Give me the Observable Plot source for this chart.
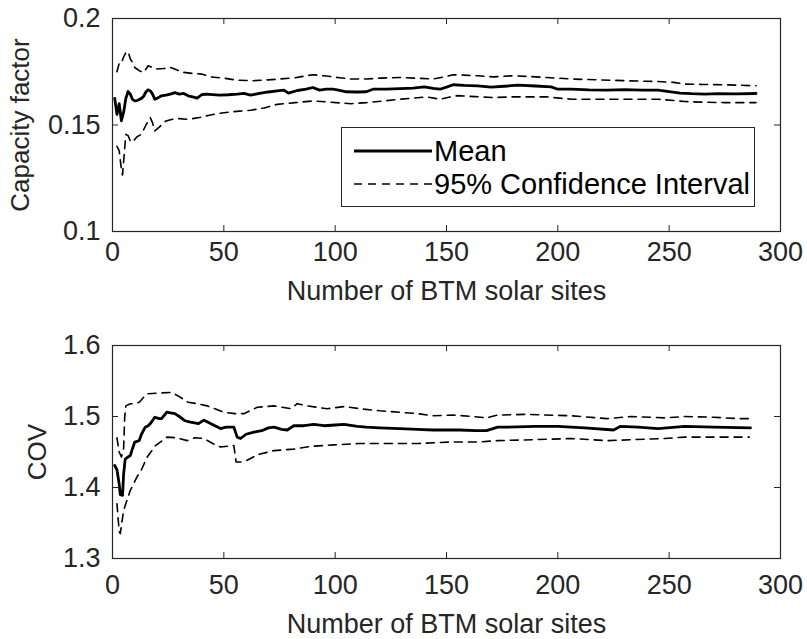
<!DOCTYPE html>
<html><head><meta charset="utf-8">
<script src="https://cdn.jsdelivr.net/npm/d3@7"></script>
<script src="https://cdn.jsdelivr.net/npm/@observablehq/plot@0.6"></script>
<style>
body{margin:0;background:#fff;}
#wrap{position:relative;width:807px;height:639px;overflow:hidden;font-family:"Liberation Sans",Arial,sans-serif;}
.panel{position:absolute;left:0;}
#legend{position:absolute;left:341px;top:127px;width:414px;height:80px;border:1.3px solid #262626;background:#fff;box-sizing:border-box;}
#legend .row{position:absolute;left:0;height:30px;display:flex;align-items:center;}
#legend .lbl{font-size:29px;color:#000;margin-left:2px;white-space:nowrap;}
</style></head><body><div id="wrap"></div>
<script>
// ---------- shared axis ----------
const xTicks = [0, 50, 100, 150, 200, 250, 300];
const xLabel = "Number of BTM solar sites";

// ---------- top panel: capacity factor ----------
const cfTicks = [0.1, 0.15, 0.2];
const cfLabel = "Capacity factor";
const cfMeanN = [1,2,3,4,5,6,7,8,9,10,11,12,13,14,15,16,17,18,19,20,22,24,26,28,30,32,34,36,38,40,42,45,48,52,56,59,62,66,70,74,77,79,83,87,90,93,96,99,102,105,110,114,117,123,129,135,140,144,147,150,153,158,164,170,176,182,190,197,200,206,214,222,230,238,245,250,255,260,266,272,280,289];
const cfMean = [0.1625,0.155,0.160,0.152,0.156,0.1625,0.1657,0.1645,0.162,0.1613,0.1615,0.162,0.1625,0.1635,0.1655,0.1665,0.166,0.1645,0.1621,0.1625,0.1637,0.164,0.1645,0.1652,0.1645,0.1648,0.1637,0.1632,0.1626,0.1642,0.1645,0.1643,0.164,0.1642,0.1645,0.1648,0.164,0.1648,0.1655,0.166,0.1664,0.165,0.1662,0.1668,0.1676,0.1664,0.1668,0.1668,0.1662,0.1656,0.1655,0.1656,0.1668,0.1668,0.1671,0.1673,0.1679,0.1672,0.1668,0.1678,0.1689,0.1686,0.1684,0.1678,0.1682,0.1687,0.1683,0.1679,0.1668,0.1668,0.1665,0.1664,0.1666,0.1664,0.1664,0.1657,0.165,0.1647,0.1645,0.1647,0.1646,0.1648];
const cfUpperN = [2,3,4,5,6,7,8,9,10,12,14,16,18,20,23,26,29,32,36,40,44,50,56,63,70,75,82,90,96,102,107,114,120,129,136,144,150,153,158,164,171,179,187,195,206,218,230,245,252,257,266,275,289];
const cfUpper = [0.175,0.179,0.179,0.182,0.184,0.1845,0.181,0.1794,0.177,0.1755,0.1747,0.1778,0.177,0.1763,0.1765,0.177,0.1758,0.1747,0.1742,0.1739,0.1726,0.172,0.171,0.1708,0.1712,0.1716,0.1722,0.1736,0.173,0.1722,0.1716,0.1716,0.172,0.1723,0.172,0.1716,0.1728,0.1736,0.1734,0.1731,0.1726,0.1731,0.1728,0.1723,0.1716,0.1712,0.1708,0.1704,0.17,0.1692,0.169,0.1689,0.1684];
const cfLowerN = [2,3,4,4.5,5,6,7,8,9,11,13,15,17,18,19,21,24,27,30,33,36,39,43,47,52,57,62,68,74,82,90,98,107,114,121,129,135,141,147,151,155,163,171,180,195,206,220,245,252,257,266,275,289];
const cfLower = [0.14,0.138,0.129,0.1265,0.133,0.1456,0.145,0.1425,0.142,0.1445,0.1456,0.15,0.1534,0.151,0.1472,0.149,0.1519,0.1527,0.153,0.1527,0.153,0.1535,0.1545,0.1553,0.156,0.1565,0.1569,0.158,0.1597,0.1605,0.1613,0.1607,0.16,0.1605,0.1612,0.1621,0.1626,0.1632,0.1621,0.163,0.1638,0.1633,0.1629,0.1632,0.1632,0.1621,0.1621,0.1621,0.1615,0.161,0.1607,0.1605,0.1605];

// ---------- bottom panel: COV ----------
const covTicks = [1.3, 1.4, 1.5, 1.6];
const covLabel = "COV";
const covMeanN = [1,2,3,3.5,4.5,5,5.7,7,8,9,10,12,13,14.7,16,17,19,21,22,24.4,26,28,30,32.6,35,38.6,41,44,48.5,51,54.5,56,57.5,60,63.5,67,70,72.5,76,78.5,81.4,86,90.4,95,100,104,110,114,120,129,137,144,156,163,168,173,177,190,200,212,225,228,236,245,257,270,286.5];
const covMean = [1.431,1.425,1.405,1.39,1.389,1.419,1.44,1.443,1.445,1.455,1.464,1.466,1.475,1.485,1.487,1.49,1.499,1.497,1.497,1.506,1.505,1.504,1.5,1.494,1.492,1.49,1.495,1.49,1.483,1.485,1.485,1.471,1.469,1.475,1.478,1.48,1.484,1.485,1.482,1.481,1.487,1.487,1.489,1.487,1.488,1.489,1.486,1.485,1.484,1.483,1.482,1.481,1.481,1.48,1.48,1.485,1.485,1.486,1.486,1.484,1.481,1.486,1.485,1.483,1.486,1.485,1.484];
const covUpperN = [2,3,4,5,5.5,6,8,10,12,15.4,20.7,26.6,30,34,38,42.5,50,55,59,65,72.5,80,83,87.4,96.4,104,111,120,129,137,144,153,162,168,173,185,206,222,233,248,257,270,281,286];
const covUpper = [1.47,1.45,1.443,1.455,1.5,1.515,1.518,1.518,1.52,1.532,1.533,1.534,1.528,1.52,1.518,1.515,1.506,1.504,1.504,1.513,1.515,1.511,1.518,1.515,1.511,1.514,1.511,1.508,1.506,1.504,1.501,1.502,1.5,1.498,1.502,1.503,1.501,1.497,1.5,1.498,1.5,1.499,1.497,1.497];
const covLowerN = [2,3,3.5,5,8,11,13,15.6,19.3,24.5,29,33.5,37,41,45,48.5,54.5,55.5,59,65,72.5,81.4,89,99.4,111,122,137,152,164,173,185,206,222,248,257,270,286];
const covLower = [1.377,1.338,1.335,1.368,1.396,1.415,1.425,1.443,1.459,1.471,1.47,1.466,1.47,1.469,1.462,1.457,1.459,1.436,1.436,1.446,1.452,1.454,1.458,1.46,1.462,1.462,1.462,1.464,1.464,1.466,1.467,1.469,1.466,1.469,1.471,1.471,1.471];

const legendLabels = ["Mean", "95% Confidence Interval"];

// ---------- styling ----------
const FONT = '"Liberation Sans", Arial, sans-serif';
const AXIS = "#262626";
const TICK = 6;

function panel({top, height, marginTop, marginBottom, yDomain, yTicks, yLabel, yLabelOffset, xTickPad, xLabelOffset, mean, upper, lower}) {
  const fh = height - marginTop - marginBottom;
  const fw = 807 - 112 - 27;
  const pts = (N, V) => V.map((v, i) => ({n: N[i], v}));
  const svg = Plot.plot({
    width: 807, height, marginTop, marginBottom, marginLeft: 112, marginRight: 27,
    style: {fontFamily: FONT, fontSize: "27px", color: AXIS, background: "white", overflow: "visible"},
    x: {domain: [0, 300]},
    y: {domain: yDomain},
    marks: [
      Plot.frame({stroke: AXIS, strokeWidth: 1.2}),
      Plot.tickX(xTicks, {x: d => d, insetTop: fh - TICK, stroke: AXIS}),
      Plot.tickX(xTicks, {x: d => d, insetBottom: fh - TICK, stroke: AXIS}),
      Plot.tickY(yTicks, {y: d => d, insetRight: fw - TICK, stroke: AXIS}),
      Plot.tickY(yTicks, {y: d => d, insetLeft: fw - TICK, stroke: AXIS}),
      Plot.axisX({ticks: xTicks, tickFormat: d => String(d), tickSize: 0, tickPadding: xTickPad, label: xLabel, labelAnchor: "center", labelArrow: "none", labelOffset: xLabelOffset, fill: AXIS}),
      Plot.axisY({ticks: yTicks, tickFormat: d => String(d), tickSize: 0, tickPadding: 12, label: yLabel, labelAnchor: "center", labelArrow: "none", labelOffset: yLabelOffset, fill: AXIS}),
      Plot.line(pts(upper[0], upper[1]), {x: "n", y: "v", stroke: "black", strokeWidth: 1.6, strokeDasharray: "8,6"}),
      Plot.line(pts(lower[0], lower[1]), {x: "n", y: "v", stroke: "black", strokeWidth: 1.6, strokeDasharray: "8,6"}),
      Plot.line(pts(mean[0], mean[1]), {x: "n", y: "v", stroke: "black", strokeWidth: 2.8})
    ]
  });
  svg.classList.add("panel");
  svg.style.top = top + "px";
  svg.style.position = "absolute";
  svg.querySelectorAll('g[aria-label="y-axis label"] text').forEach(t => t.setAttribute("font-size", "26px"));
  return svg;
}

const wrap = document.getElementById("wrap");
wrap.appendChild(panel({top: 0, height: 320, marginTop: 18, marginBottom: 89, yDomain: [0.1, 0.2], yTicks: cfTicks, yLabel: cfLabel, yLabelOffset: 102, xTickPad: 10, xLabelOffset: 68,
  mean: [cfMeanN, cfMean], upper: [cfUpperN, cfUpper], lower: [cfLowerN, cfLower]}));
wrap.appendChild(panel({top: 320, height: 319, marginTop: 25, marginBottom: 81, yDomain: [1.3, 1.6], yTicks: covTicks, yLabel: covLabel, yLabelOffset: 85, xTickPad: 16, xLabelOffset: 74,
  mean: [covMeanN, covMean], upper: [covUpperN, covUpper], lower: [covLowerN, covLower]}));

// legend
const leg = document.createElement("div");
leg.id = "legend";
const styles = [{dash: null, w: 2.8, len: 78}, {dash: "8,6", w: 1.6, len: 78}];
legendLabels.forEach((lab, i) => {
  const row = document.createElement("div");
  row.className = "row";
  row.style.top = (8 + i * 33) + "px";
  row.style.left = "12px";
  const s = styles[i];
  row.innerHTML = `<svg width="${s.len}" height="30"><line x1="0" x2="${s.len}" y1="15" y2="15" stroke="black" stroke-width="${s.w}" ${s.dash ? `stroke-dasharray="${s.dash}"` : ""}/></svg><span class="lbl">${lab}</span>`;
  leg.appendChild(row);
});
wrap.appendChild(leg);
</script>
</body></html>
